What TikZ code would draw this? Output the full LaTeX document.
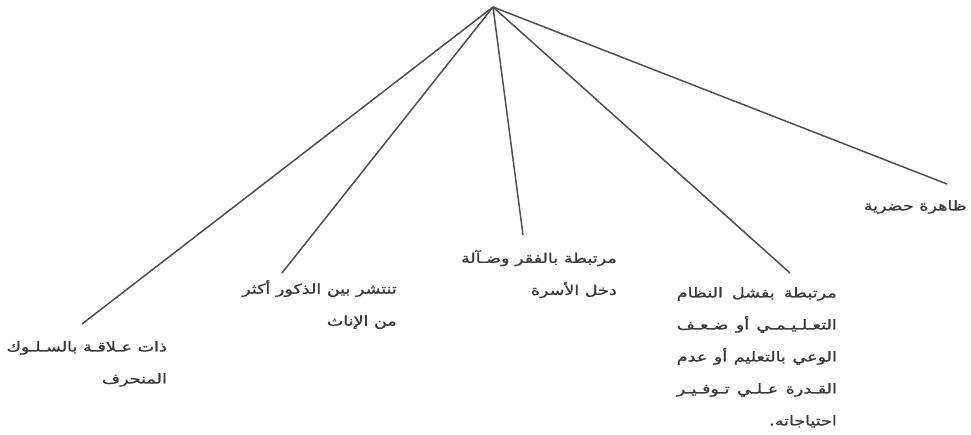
\documentclass[tikz,border=0pt]{standalone}
\usepackage{fontspec}
\TeXXeTstate=1
\newfontfamily\arabicfont[Script=Arabic,FakeBold=1.2,FakeStretch=1.3]{DejaVu Sans}
\newcommand\ar[1]{\beginR #1\endR}
\newcommand\jl[1]{\hbox to 160pt{\beginR #1\endR}}
\definecolor{linegray}{HTML}{505050}
\definecolor{txtgray}{HTML}{3A3A3A}
\begin{document}
\begin{tikzpicture}[x=1pt,y=-1pt,
  lbl/.style={align=right, inner sep=0pt, text=txtgray,
    font=\arabicfont\fontsize{13.5}{32}\selectfont},
  branch/.style={draw=linegray, line width=1.5pt}]
\useasboundingbox (0,0) rectangle (971,434);
\coordinate (apex) at (493,7);
\coordinate (e1) at (82,324);
\coordinate (e2) at (282,273);
\coordinate (e3) at (523,235);
\coordinate (e4) at (790,273);
\coordinate (e5) at (947,184);
\node[lbl, anchor=north east] (t1) at (167,341) {\ar{ذات عـلاقـة بالسـلـوك}\\\ar{المنحرف}};
\node[lbl, anchor=north east] (t2) at (397,280) {\ar{تنتشر بين الذكور أكثر}\\\ar{من الإناث}};
\node[lbl, anchor=north east] (t3) at (617,250) {\ar{مرتبطة بالفقر وضـآلة}\\\ar{دخل الأسرة}};
\node[lbl, anchor=north east] (t4) at (837,287) {\jl{مرتبطة بفشل النظام}\\\jl{التعـلـيـمـي أو ضـعـف}\\\jl{الوعي بالتعليم أو عدم}\\\jl{القـدرة عـلـي تـوفـيـر}\\\ar{احتياجاته.}};
\node[lbl, anchor=north east] (t5) at (967,200) {\ar{ظاهرة حضرية}};
\foreach \e in {e1,e2,e3,e4,e5} \draw[branch] (apex) -- (\e);
\end{tikzpicture}
\end{document}
